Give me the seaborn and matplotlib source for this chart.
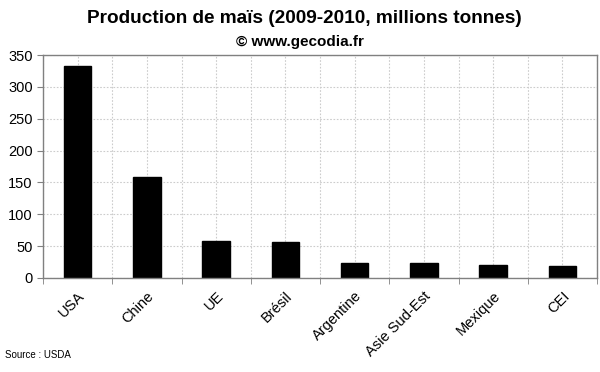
import numpy as np
import pandas as pd
import matplotlib
matplotlib.use("Agg")
import matplotlib.pyplot as plt
import seaborn as sb

pays = ["USA", "Chine", "UE", "Brésil", "Argentine", "Asie Sud-Est", "Mexique", "CEI"]
production = [333, 159, 58, 57, 24, 23, 21, 19]
y_ticks = [0, 50, 100, 150, 200, 250, 300, 350]

t = pd.DataFrame({"pays": pays, "production": production})

sb.set_style("white")
plt.rcParams["font.family"] = ["Liberation Sans", "DejaVu Sans"]
plt.rcParams["text.color"] = "black"
plt.rcParams["xtick.color"] = "black"
plt.rcParams["ytick.color"] = "black"

fig = plt.figure(figsize=(6, 3.72), dpi=100)
ax = fig.add_axes([0.0717, 0.2527, 0.9233, 0.5993])

sb.barplot(data=t, x="pays", y="production", color="black", width=0.4,
           edgecolor="black", saturation=1, ax=ax)

ax.set_ylim(0, 350)
ax.set_xlim(-0.5, len(pays) - 0.5)
ax.set_yticks(y_ticks)
ax.set_xticks(np.arange(len(pays)))
ax.set_xticks(np.arange(len(pays) + 1) - 0.5, minor=True)
ax.set_xticklabels(pays, rotation=45, ha="right", rotation_mode="anchor", fontsize=10.5)
ax.tick_params(axis="y", labelsize=10.5, length=4, color="#808080", left=True)
ax.tick_params(axis="x", which="major", length=0, pad=8)
ax.tick_params(axis="x", which="minor", length=4, color="#808080", bottom=True)

# grille pointillee aux centres et aux limites des categories
ax.grid(True, which="both", axis="x", color="#cccccc", linestyle=(0, (1.5, 1.5)), linewidth=0.8)
ax.grid(True, which="major", axis="y", color="#cccccc", linestyle=(0, (1.5, 1.5)), linewidth=0.8)
ax.set_axisbelow(True)

for s in ax.spines.values():
    s.set_color("#808080")
    s.set_linewidth(1)
    s.set_visible(True)

ax.set_xlabel("")
ax.set_ylabel("")

fig.text(0.508, 0.949, "Production de maïs (2009-2010, millions tonnes)",
         ha="center", va="center", fontsize=13.7, fontweight="bold")
fig.text(0.5, 0.886, "© www.gecodia.fr", ha="center", va="center",
         fontsize=11, fontweight="bold")
fig.text(0.008, 0.045, "Source : USDA", ha="left", va="center", fontsize=7)

fig.savefig("out.png", dpi=100)
